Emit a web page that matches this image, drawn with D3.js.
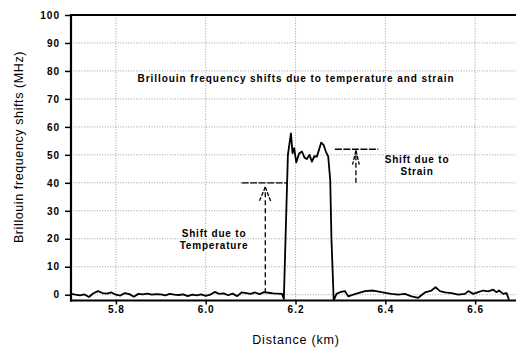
<!DOCTYPE html>
<html>
<head>
<meta charset="utf-8">
<script src="https://cdn.jsdelivr.net/npm/d3@7"></script>
<style>
  body { margin:0; background:#fff; }
  text { font-family:"Liberation Sans", Arial, sans-serif; fill:#000; }
</style>
</head>
<body>
<svg id="viewer"></svg>
<script>
// distance (km) and brillouin shift (MHz)
var distance = [
  5.70,5.71,5.72,5.73,5.74,5.75,5.76,5.77,5.78,5.79,
  5.80,5.81,5.82,5.83,5.84,5.85,5.86,5.87,5.88,5.89,
  5.90,5.91,5.92,5.93,5.94,5.95,5.96,5.97,5.98,5.99,
  6.00,6.01,6.02,6.03,6.04,6.05,6.06,6.07,6.08,6.09,
  6.10,6.11,6.12,6.13,6.14,6.15,6.16,6.17,6.174,6.183,
  6.1898,6.1933,6.1970,6.2016,6.2080,6.2143,6.2200,6.2254,6.2310,6.2365,
  6.2420,6.2477,6.2572,6.2624,6.2680,6.2728,6.2773,6.2800,6.2850,6.2913,
  6.2989,6.3100,6.3174,6.3285,6.3396,6.3546,6.3731,6.3915,6.4027,6.4138,
  6.4287,6.4437,6.4584,6.4733,6.4882,6.5029,6.5118,6.5216,6.5327,6.5474,
  6.5624,6.5773,6.5846,6.5958,6.6069,6.6180,6.6292,6.6403,6.6477,6.6530,
  6.6626,6.6699,6.6753
];
var shift = [
  0.3,0.0,-0.2,0.1,-0.8,0.5,1.3,0.6,0.4,0.8,
  0.0,-0.3,0.6,0.2,-0.7,0.3,0.1,0.4,0.0,0.2,
  0.1,-0.2,0.3,0.0,-0.1,0.1,-0.5,0.0,-0.2,0.1,
  -0.4,0.0,1.0,0.3,0.5,-0.2,0.4,-0.5,0.8,0.6,
  0.3,0.8,0.2,0.9,0.7,0.5,0.4,0.3,-1.5,50,
  57.7,50.6,52.4,47.3,50.5,51.2,49.0,48.5,50.0,47.6,
  49.5,49.4,54.4,53.6,51.0,49.4,41.0,20,-2.0,0.3,
  0.9,1.3,-0.6,0.0,0.6,1.3,1.5,0.9,0.6,0.3,
  0.0,0.3,-0.6,-1.1,0.8,1.5,2.7,1.3,0.8,0.6,
  0.0,0.3,1.3,0.3,0.9,1.5,1.2,1.8,0.9,1.5,
  0.3,0.6,-1.8
];
var xTicks = [5.8, 6.0, 6.2, 6.4, 6.6];
var yTicks = [0,10,20,30,40,50,60,70,80,90,100];
var titleText = 'Brillouin frequency shifts due to temperature and strain';
var tempLabel = ['Shift due to', 'Temperature'];
var strainLabel = ['Shift due to', 'Strain'];
// annotation levels (MHz)
var tempLevel = 40, strainLevel = 52;

var W = 516, H = 348;
var viewer = d3.select('#viewer')
  .attr('width', W)
  .attr('height', H);

var x = d3.scaleLinear().domain([5.70, 6.691]).range([71, 516]);
var y = d3.scaleLinear().domain([-2.07, 100]).range([300.5, 15]);

// grid
viewer.append('g').selectAll('line')
  .data(yTicks.filter(function(d){return d < 100;}))
  .enter().append('line')
    .attr('x1', x(5.70)).attr('x2', W)
    .attr('y1', function(d){return y(d);})
    .attr('y2', function(d){return y(d);})
    .style('stroke', '#8a8a8a').style('stroke-width', 0.8)
    .style('stroke-dasharray', '1,1.6');
viewer.append('g').selectAll('line')
  .data(xTicks)
  .enter().append('line')
    .attr('x1', function(d){return x(d);})
    .attr('x2', function(d){return x(d);})
    .attr('y1', y(100)).attr('y2', y(-2.07))
    .style('stroke', '#8a8a8a').style('stroke-width', 0.8)
    .style('stroke-dasharray', '1,1.6');

// axes
var yAxis = viewer.append('g')
  .attr('transform', 'translate(' + x(5.70) + ',0)')
  .call(d3.axisLeft(y).tickValues(yTicks).tickSize(6).tickPadding(5));
var xAxis = viewer.append('g')
  .attr('transform', 'translate(0,' + y(-2.07) + ')')
  .call(d3.axisBottom(x).tickValues(xTicks).tickFormat(d3.format('.1f')).tickSize(4).tickPadding(1.5));
[xAxis, yAxis].forEach(function(ax){
  ax.select('.domain').remove();
  ax.selectAll('line').style('stroke', '#000').style('stroke-width', 1.5);
  ax.selectAll('text')
    .style('font-size', '10px').style('font-weight', 'bold')
    .style('letter-spacing', '1px').style('font-family', '"Liberation Sans", Arial, sans-serif');
});

// frame: left, bottom, top
viewer.append('line').attr('x1', x(5.70)).attr('x2', x(5.70)).attr('y1', 14).attr('y2', 301.5)
  .style('stroke', '#000').style('stroke-width', 2.2);
viewer.append('line').attr('x1', 70).attr('x2', W).attr('y1', y(-2.07)).attr('y2', y(-2.07))
  .style('stroke', '#000').style('stroke-width', 2.2);
viewer.append('line').attr('x1', 70).attr('x2', W).attr('y1', y(100)).attr('y2', y(100))
  .style('stroke', '#000').style('stroke-width', 2);

// trace
var line = d3.line()
  .x(function(d, i){return x(distance[i]);})
  .y(function(d){return y(d);});
viewer.append('path')
  .datum(shift)
  .attr('d', line)
  .style('fill', 'none').style('stroke', '#000').style('stroke-width', 1.8)
  .style('stroke-linejoin', 'round');

// annotations
function dashed(x1, v1, x2, v2, dash){
  return viewer.append('line')
    .attr('x1', x(x1)).attr('y1', y(v1)).attr('x2', x(x2)).attr('y2', y(v2))
    .style('stroke', '#000').style('stroke-width', 1.3)
    .style('stroke-dasharray', dash);
}
// temperature shift
dashed(6.080, tempLevel, 6.182, tempLevel, '7,1.5');
dashed(6.1327, 0.5, 6.1327, tempLevel - 1.5, '5,3');
dashed(6.1327, tempLevel - 1.5, 6.1195, tempLevel - 6.5, '4,1.5');
dashed(6.1327, tempLevel - 1.5, 6.1445, tempLevel - 6.5, '4,1.5');
// strain shift
dashed(6.2877, strainLevel, 6.3842, strainLevel, '7,1.5');
dashed(6.3345, tempLevel, 6.3345, strainLevel - 0.5, '5,2.5');
dashed(6.3345, strainLevel - 0.5, 6.3270, strainLevel - 5.5, '4,1.5');
dashed(6.3345, strainLevel - 0.5, 6.3420, strainLevel - 5.5, '4,1.5');

function label(lines, cx, cy){
  viewer.append('g').selectAll('text')
    .data(lines)
    .enter().append('text')
      .attr('x', cx)
      .attr('y', function(d, i){return cy + i * 12;})
      .attr('text-anchor', 'middle')
      .style('font-size', '10px').style('font-weight', 'bold')
      .style('letter-spacing', '0.8px')
      .text(function(d){return d;});
}
label(tempLabel, 214, 237);
label(strainLabel, 417, 162.5);

viewer.append('text')
  .attr('x', 137.5).attr('y', 81.5)
  .attr('textLength', 316).attr('lengthAdjust', 'spacing')
  .style('font-size', '10px').style('font-weight', 'bold')
  .text(titleText);

// axis titles
viewer.append('text')
  .attr('x', 296).attr('y', 344)
  .attr('text-anchor', 'middle')
  .style('font-size', '12.5px').style('letter-spacing', '0.8px')
  .text('Distance (km)');
viewer.append('text')
  .attr('transform', 'translate(22.5,147) rotate(-90)')
  .attr('text-anchor', 'middle')
  .style('font-size', '12.5px').style('letter-spacing', '0.6px')
  .text('Brillouin frequency shifts (MHz)');
</script>
</body>
</html>
